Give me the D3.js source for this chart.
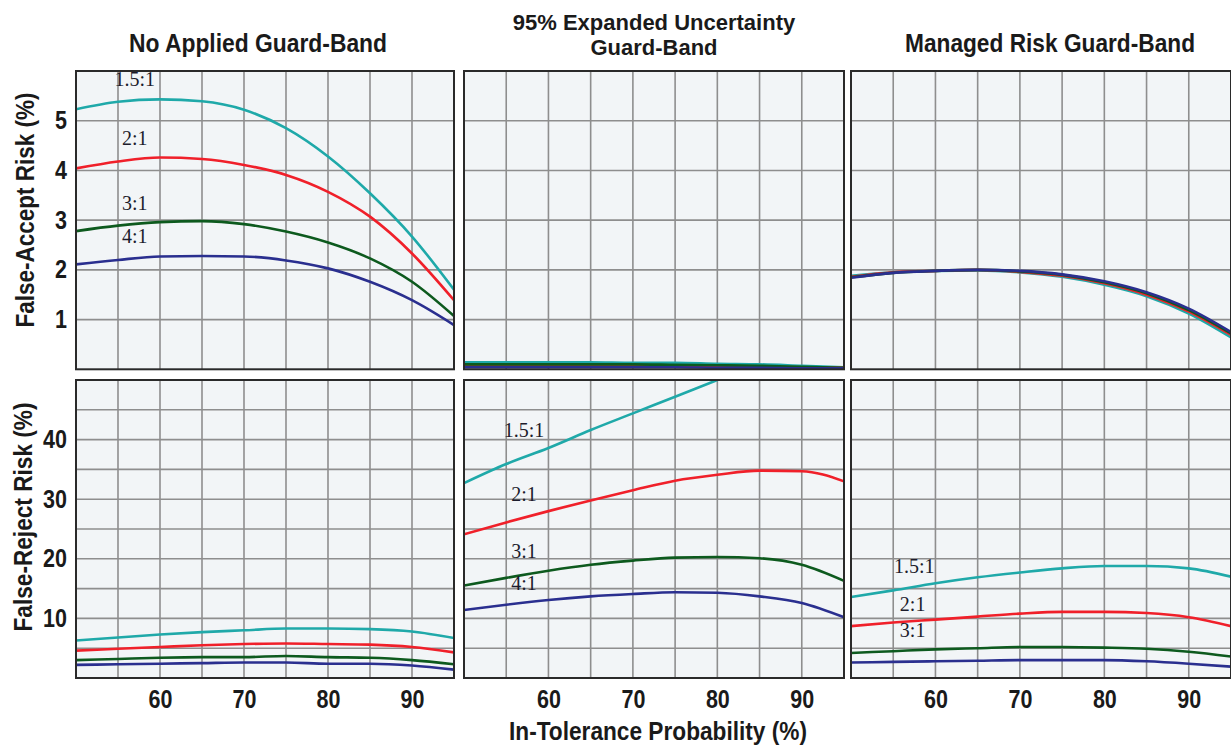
<!DOCTYPE html>
<html>
<head>
<meta charset="utf-8">
<script src="https://cdn.jsdelivr.net/npm/d3@7"></script>
<style>
  html, body { margin: 0; padding: 0; background: #ffffff; }
  svg { display: block; }
  .hdr { font-family: "Liberation Sans Narrow", "Arial Narrow", "Liberation Sans", Arial, sans-serif; font-weight: bold; fill: #1a1a1a; }
  .lbl { font-family: "Liberation Serif", "DejaVu Serif", serif; fill: #1c1c2c; }
</style>
</head>
<body>
<svg id="chart" width="1231" height="751"></svg>
<script>
// ---------------- DATA ----------------
const xValues = [50, 55, 60, 65, 70, 75, 80, 85, 90, 95];
const ratios = ["1.5:1", "2:1", "3:1", "4:1"];
const seriesColors = ["#1fa9a9", "#f0202a", "#0d5a1e", "#2a2f8f"];

const panelTitles = [["No Applied Guard-Band"], ["95% Expanded Uncertainty", "Guard-Band"], ["Managed Risk Guard-Band"]];
const rowTitles = ["False-Accept Risk (%)", "False-Reject Risk (%)"];
const xTitle = "In-Tolerance Probability (%)";

const xTickLabels = [60, 70, 80, 90];
const faTickLabels = [1, 2, 3, 4, 5];
const frTickLabels = [10, 20, 30, 40];
const faGrid = [1, 2, 3, 4, 5];
const frGrid = [5, 10, 15, 20, 25, 30, 35, 40, 45];
const xGrid = [55, 60, 65, 70, 75, 80, 85, 90];

// False-accept risk (%), rows in ratio order 1.5:1, 2:1, 3:1, 4:1
const faNone = [
  [5.23, 5.38, 5.43, 5.39, 5.22, 4.85, 4.28, 3.54, 2.67, 1.60],
  [4.04, 4.18, 4.26, 4.23, 4.11, 3.91, 3.57, 3.07, 2.33, 1.39],
  [2.78, 2.89, 2.96, 2.98, 2.92, 2.77, 2.55, 2.23, 1.76, 1.07],
  [2.11, 2.20, 2.27, 2.28, 2.27, 2.19, 2.03, 1.76, 1.39, 0.89]
];
const faU95 = [
  [0.14, 0.14, 0.14, 0.14, 0.13, 0.13, 0.11, 0.10, 0.07, 0.04],
  [0.08, 0.08, 0.08, 0.08, 0.07, 0.07, 0.06, 0.05, 0.04, 0.03],
  [0.10, 0.10, 0.10, 0.10, 0.10, 0.09, 0.08, 0.07, 0.05, 0.03],
  [0.04, 0.04, 0.04, 0.04, 0.04, 0.04, 0.03, 0.03, 0.02, 0.02]
];
const faManaged = [
  [1.88, 1.95, 1.98, 1.99, 1.95, 1.86, 1.70, 1.47, 1.12, 0.64],
  [1.86, 1.95, 1.98, 2.00, 1.96, 1.88, 1.73, 1.50, 1.16, 0.69],
  [1.85, 1.94, 1.98, 2.00, 1.97, 1.90, 1.75, 1.53, 1.19, 0.72],
  [1.84, 1.94, 1.98, 2.00, 1.98, 1.91, 1.77, 1.55, 1.22, 0.75]
];
// False-reject risk (%)
const frNone = [
  [6.3, 6.8, 7.3, 7.7, 8.0, 8.3, 8.3, 8.2, 7.8, 6.7],
  [4.6, 4.9, 5.2, 5.5, 5.7, 5.8, 5.7, 5.6, 5.2, 4.3],
  [3.0, 3.2, 3.4, 3.5, 3.5, 3.7, 3.5, 3.4, 3.0, 2.3],
  [2.2, 2.3, 2.4, 2.5, 2.6, 2.6, 2.4, 2.4, 2.1, 1.4]
];
const frU95 = [
  [32.7, 35.9, 38.6, 41.6, 44.4, 47.2, 50.0, null, null, null],
  [24.1, 26.1, 28.0, 29.8, 31.5, 33.1, 34.1, 34.8, 34.7, 33.0],
  [15.5, 16.8, 18.0, 19.0, 19.7, 20.2, 20.3, 20.1, 19.0, 16.3],
  [11.4, 12.3, 13.1, 13.7, 14.1, 14.4, 14.3, 13.7, 12.6, 10.2]
];
const frManaged = [
  [13.6, 14.7, 15.9, 16.9, 17.7, 18.4, 18.8, 18.8, 18.4, 17.0],
  [8.7, 9.3, 9.8, 10.3, 10.8, 11.1, 11.1, 10.9, 10.2, 8.7],
  [4.2, 4.5, 4.8, 5.0, 5.2, 5.2, 5.1, 4.9, 4.4, 3.6],
  [2.6, 2.7, 2.8, 2.9, 3.0, 3.0, 3.0, 2.8, 2.4, 1.9]
];

// curve labels: [ratio index, x value, y value]
const faNoneLabels = [[0, 57.0, 5.70], [1, 57.0, 4.51], [2, 57.0, 3.21], [3, 57.0, 2.54]];
const frU95Labels = [[0, 57.1, 40.5], [1, 57.1, 29.7], [2, 57.1, 20.2], [3, 57.1, 14.8]];
const frManagedLabels = [[0, 57.5, 17.7], [1, 57.3, 11.3], [2, 57.3, 6.8]];

// ---------------- LAYOUT ----------------
const svg = d3.select("#chart");
const colBounds = [[76, 454], [464, 844], [851, 1231]];
const rowBounds = [[71, 369.3], [380, 678]];
const rowDomains = [[0, 6], [0, 50]];
const rowGrid = [faGrid, frGrid];

// condense a bold sans text to mimic a narrow typeface
function squeeze(sel, factor, target) {
  sel.each(function () {
    const n = this.getComputedTextLength();
    const w = target ? target : n * factor;
    if (w < n) {
      d3.select(this).attr("textLength", w).attr("lengthAdjust", "spacingAndGlyphs");
    }
  });
}

const panels = [
  { r: 0, c: 0, data: faNone, labels: faNoneLabels },
  { r: 0, c: 1, data: faU95, labels: [] },
  { r: 0, c: 2, data: faManaged, labels: [] },
  { r: 1, c: 0, data: frNone, labels: [] },
  { r: 1, c: 1, data: frU95, labels: frU95Labels },
  { r: 1, c: 2, data: frManaged, labels: frManagedLabels }
];

const defs = svg.append("defs");

panels.forEach((p, i) => {
  const [x0, x1] = colBounds[p.c];
  const [y0, y1] = rowBounds[p.r];
  const x = d3.scaleLinear().domain([50, 95]).range([x0, x1]);
  const y = d3.scaleLinear().domain(rowDomains[p.r]).range([y1, y0]);

  defs.append("clipPath").attr("id", "clip" + i)
    .append("rect").attr("x", x0).attr("y", y0).attr("width", x1 - x0).attr("height", y1 - y0);

  const g = svg.append("g");
  g.append("rect").attr("x", x0).attr("y", y0).attr("width", x1 - x0).attr("height", y1 - y0)
    .attr("fill", "#f2f5f7");

  // grid
  g.selectAll(".vg").data(xGrid).join("line")
    .attr("x1", d => x(d)).attr("x2", d => x(d)).attr("y1", y0).attr("y2", y1)
    .attr("stroke", "#8e8e8e").attr("stroke-width", 1.6);
  g.selectAll(".hg").data(rowGrid[p.r]).join("line")
    .attr("x1", x0).attr("x2", x1).attr("y1", d => y(d)).attr("y2", d => y(d))
    .attr("stroke", "#8e8e8e").attr("stroke-width", 1.6);

  // lines
  const line = d3.line()
    .defined(d => d[1] !== null)
    .x(d => x(d[0])).y(d => y(d[1]))
    .curve(d3.curveMonotoneX);
  const lg = g.append("g").attr("clip-path", `url(#clip${i})`);
  p.data.forEach((vals, si) => {
    lg.append("path")
      .datum(xValues.map((xv, k) => [xv, vals[k]]))
      .attr("d", line)
      .attr("fill", "none")
      .attr("stroke", seriesColors[si])
      .attr("stroke-width", 2.6)
      .attr("stroke-linejoin", "round");
  });

  // labels
  const tg = g.append("g").attr("clip-path", `url(#clip${i})`);
  p.labels.forEach(([si, lx, ly]) => {
    tg.append("text").attr("class", "lbl")
      .attr("x", x(lx)).attr("y", y(ly))
      .attr("text-anchor", "middle")
      .attr("font-size", 20)
      .text(ratios[si]);
  });

  // border
  g.append("rect").attr("x", x0).attr("y", y0).attr("width", x1 - x0).attr("height", y1 - y0)
    .attr("fill", "none").attr("stroke", "#2a2a2a").attr("stroke-width", 2);

  // y tick labels (left column only)
  if (p.c === 0) {
    const ticks = p.r === 0 ? faTickLabels : frTickLabels;
    const ay = d3.axisLeft(y).tickValues(ticks).tickFormat(d3.format("d")).tickSize(0).tickPadding(9);
    const a = svg.append("g").attr("transform", `translate(${x0},0)`).call(ay);
    a.select(".domain").remove();
    a.selectAll("text").attr("class", "hdr").attr("font-size", 25).attr("fill", "#1a1a1a")
      .call(squeeze, 0.86);
  }
  // x tick labels (bottom row only)
  if (p.r === 1) {
    const ax = d3.axisBottom(x).tickValues(xTickLabels).tickFormat(d3.format("d")).tickSize(0).tickPadding(12);
    const a = svg.append("g").attr("transform", `translate(0,${y1})`).call(ax);
    a.select(".domain").remove();
    a.selectAll("text").attr("class", "hdr").attr("font-size", 25).attr("fill", "#1a1a1a")
      .call(squeeze, 0.86);
  }
});

// panel titles
const titleX = [258, 654, 1050];
const titleBase = [[52], [30, 55], [52]];
const titleSize = [25, 22, 25];
const titleWidth = [[258], [292, 127], [290]];
panelTitles.forEach((lines, c) => {
  lines.forEach((s, k) => {
    svg.append("text").attr("class", "hdr")
      .attr("x", titleX[c])
      .attr("y", titleBase[c][k])
      .attr("text-anchor", "middle").attr("font-size", titleSize[c])
      .text(s)
      .call(squeeze, 1, titleWidth[c][k]);
  });
});

// row titles
const rowCenters = [210, 517];
const rowX = [34, 32];
const rowWidth = [235, 229];
rowTitles.forEach((t, r) => {
  svg.append("text").attr("class", "hdr")
    .attr("transform", `translate(${rowX[r]},${rowCenters[r]}) rotate(-90)`)
    .attr("text-anchor", "middle").attr("font-size", 25)
    .text(t)
    .call(squeeze, 1, rowWidth[r]);
});

// x title
svg.append("text").attr("class", "hdr")
  .attr("x", 658).attr("y", 740)
  .attr("text-anchor", "middle").attr("font-size", 25)
  .text(xTitle)
  .call(squeeze, 1, 298);
</script>
</body>
</html>
